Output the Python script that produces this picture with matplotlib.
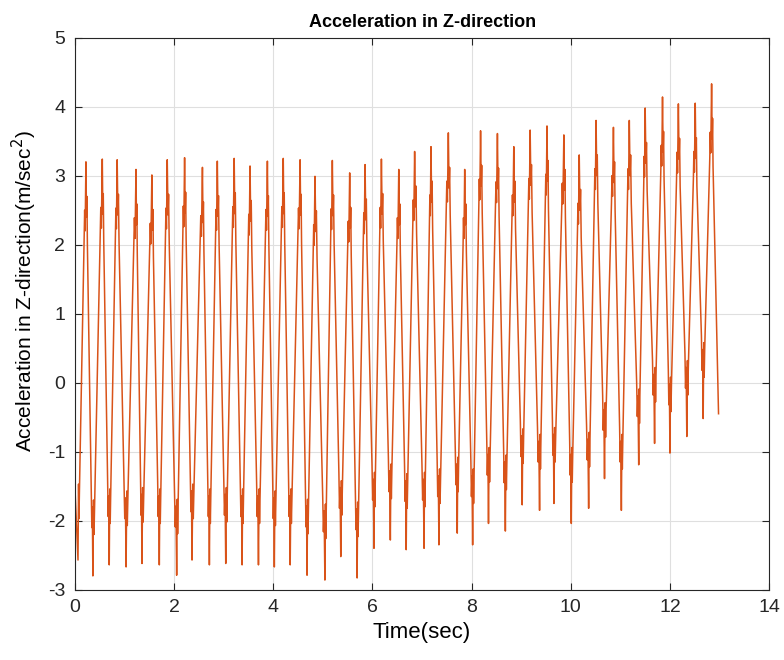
import matplotlib as mpl
import matplotlib.pyplot as plt
import numpy as np

mpl.rcParams.update({
    "font.family": ["Liberation Sans", "DejaVu Sans"],
    "axes.unicode_minus": False,
    "axes.edgecolor": "#262626",
    "xtick.color": "#262626",
    "ytick.color": "#262626",
})

# peaks of each oscillation (time in sec, acceleration in m/sec^2)
peak_t = [0.22, 0.55, 0.85, 1.23, 1.55, 1.86, 2.21, 2.57, 2.87, 3.21,
          3.53, 3.88, 4.20, 4.54, 4.84, 5.19, 5.54, 5.85, 6.18, 6.53,
          6.85, 7.18, 7.53, 7.86, 8.18, 8.52, 8.85, 9.18, 9.52, 9.86,
          10.17, 10.51, 10.86, 11.18, 11.50, 11.85, 12.17, 12.51, 12.84]
peak_v = [3.20, 3.24, 3.23, 3.09, 3.01, 3.23, 3.26, 3.12, 3.21, 3.25,
          3.14, 3.21, 3.25, 3.23, 2.99, 3.22, 3.04, 3.16, 3.24, 3.09,
          3.35, 3.42, 3.62, 3.09, 3.65, 3.61, 3.42, 3.66, 3.72, 3.59,
          3.30, 3.80, 3.70, 3.80, 3.98, 4.14, 4.04, 4.05, 4.33]

# troughs, one before each peak
trough_t = [0.06, 0.36, 0.69, 1.03, 1.35, 1.70, 2.05, 2.36, 2.71, 3.04,
            3.37, 3.70, 4.02, 4.34, 4.68, 5.04, 5.36, 5.69, 6.03, 6.36,
            6.68, 7.04, 7.34, 7.71, 8.02, 8.34, 8.68, 9.02, 9.37, 9.66,
            10.01, 10.36, 10.68, 11.02, 11.37, 11.69, 12.00, 12.34, 12.67]
trough_v = [-2.57, -2.80, -2.64, -2.67, -2.62, -2.64, -2.79, -2.57, -2.64, -2.62,
            -2.64, -2.64, -2.67, -2.64, -2.79, -2.86, -2.52, -2.83, -2.40, -2.28,
            -2.42, -2.40, -2.35, -2.18, -2.35, -2.04, -2.15, -1.77, -1.85, -1.75,
            -2.04, -1.82, -1.39, -1.85, -1.19, -0.88, -1.02, -0.78, -0.52]

start_t, start_v = 0.0, -1.55
end_t, end_v = 12.98, -0.45

# chatter bunched near each crest and dip:
# (fraction of half-cycle, offset from the nearer extreme)
rise_shape = [(0.07, 1.1), (0.12, 0.6), (0.18, 1.0),
              (0.78, -1.1), (0.84, -0.7), (0.90, -1.0)]
fall_shape = [(0.08, -0.8), (0.14, -0.5), (0.21, -1.2),
              (0.78, 1.2), (0.85, 0.7), (0.92, 1.0)]


def build_trace():
    t, v = [start_t], [start_v]
    n = len(peak_t)
    for i in range(n):
        tt, vt = trough_t[i], trough_v[i]
        tp, vp = peak_t[i], peak_v[i]
        t.append(tt); v.append(vt)
        d = tp - tt
        for f, off in rise_shape:
            t.append(tt + f * d)
            v.append((vt if off > 0 else vp) + off)
        t.append(tp); v.append(vp)
        tn, vn = (trough_t[i + 1], trough_v[i + 1]) if i + 1 < n else (end_t, end_v)
        e = tn - tp
        shape = fall_shape if i + 1 < n else fall_shape[:3]
        for f, off in shape:
            t.append(tp + f * e)
            v.append((vn if off > 0 else vp) + off)
    t.append(end_t); v.append(end_v)
    return np.array(t), np.array(v)


time, acc = build_trace()

fig = plt.figure(figsize=(7.84, 6.6), dpi=100)
ax = fig.add_axes([0.0957, 0.1065, 0.8853, 0.8365])
ax.plot(time, acc, color="#D95319", linewidth=1.1)

ax.set_xlim(0, 14)
ax.set_ylim(-3, 5)
ax.set_xticks(np.arange(0, 15, 2))
ax.set_yticks(np.arange(-3, 6, 1))
ax.grid(True, color="#dfdfdf", linewidth=0.8)
ax.set_axisbelow(True)
ax.tick_params(direction="in", length=5, top=True, right=True, labelsize=14, pad=7)
for s in ax.spines.values():
    s.set_linewidth(0.8)

ax.set_title("Acceleration in Z-direction", fontsize=13, fontweight="bold", pad=8)
ax.set_xlabel("Time(sec)", fontsize=16, labelpad=4)
ax.set_ylabel("Acceleration in Z-direction(m/sec$^2$)", fontsize=15)
ax.yaxis.set_label_coords(-0.052, 0.54)

fig.savefig("out.png", dpi=100)
